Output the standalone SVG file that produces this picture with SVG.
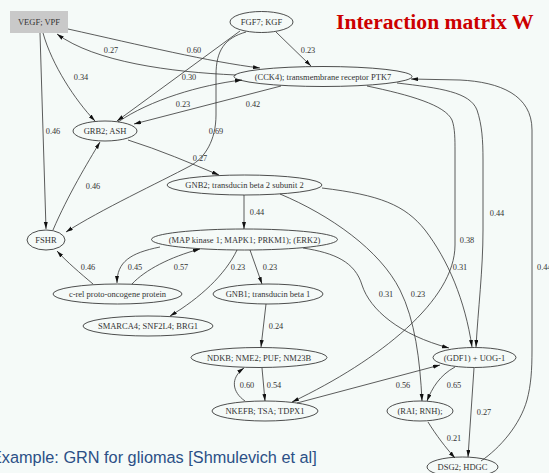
<svg xmlns="http://www.w3.org/2000/svg" width="549" height="473" viewBox="0 0 549 473">
  <style>
    .node ellipse { fill: none; stroke: #222; stroke-width: 0.8; }
    .node rect { fill: #c9c9c9; stroke: none; }
    .node text { font-family: "Liberation Serif", "Times New Roman", serif; font-size: 8.5px; fill: #333; text-anchor: middle; }
    .edges path { fill: none; stroke: #333; stroke-width: 0.8; marker-end: url(#arrow); }
    .lbl text { font-family: "Liberation Serif", "Times New Roman", serif; font-size: 8.3px; fill: #333; text-anchor: middle; }
    .title { font-family: "Liberation Serif", "Times New Roman", serif; font-size: 21.6px; font-weight: bold; fill: #cc0000; }
    .caption { font-family: "Liberation Sans", Arial, sans-serif; font-size: 16.3px; fill: #2b4f86; }
  </style>
  <defs>
    <marker id="arrow" markerUnits="userSpaceOnUse" markerWidth="7" markerHeight="5" refX="7" refY="2" orient="auto">
      <path d="M0,0 L7,2 L0,4 z" fill="#111"/>
    </marker>
  </defs>

  <rect width="549" height="473" fill="#f5faf8"/>

  <text class="title" x="336" y="29">Interaction matrix W</text>

  <!-- connectors -->
  <g id="edges" class="edges">
    <path d="M68,29 C140,45 210,62 260,68"/>
    <path d="M236,75 C170,72 95,62 57,34"/>
    <path d="M43,33 C52,65 75,100 95,121"/>
    <path d="M40,33 L46,229"/>
    <path d="M53,230 C68,195 88,162 100,142"/>
    <path d="M240,31 L117,121"/>
    <path d="M276,32 L311,66"/>
    <path d="M246,32 C225,38 216,50 216,75 L216,115 C216,140 205,158 190,166 C160,182 100,210 66,232"/>
    <path d="M118,122 C150,100 200,85 242,80"/>
    <path d="M281,86 L134,124"/>
    <path d="M128,140 C160,150 190,163 219,175"/>
    <path d="M244,195 L244,229"/>
    <path d="M160,247 C130,253 117,262 117,283"/>
    <path d="M132,284 C145,270 170,257 200,249"/>
    <path d="M93,284 C80,273 67,262 57,251"/>
    <path d="M237,250 C225,275 200,298 170,316"/>
    <path d="M250,250 L262,284"/>
    <path d="M266,304 L261,347"/>
    <path d="M262,368 L265,401"/>
    <path d="M245,401 C232,392 230,378 244,368"/>
    <path d="M297,403 L440,365"/>
    <path d="M455,367 C440,375 432,388 427,401"/>
    <path d="M474,368 L468,457"/>
    <path d="M428,422 C436,435 446,448 455,458"/>
    <path d="M481,461 C500,448 520,425 527,400 C531,385 532,370 532,350 L532,130 C532,95 500,82 460,80 L411,79"/>
    <path d="M397,83 C440,88 470,92 477,110 C482,125 483,140 483,160 L483,230 C483,270 478,310 476,347"/>
    <path d="M367,86 C410,95 445,105 452,120 C455,128 455,140 455,150 L455,245 C455,300 380,360 292,402"/>
    <path d="M322,188 C380,195 405,205 425,230 C448,260 465,300 472,347"/>
    <path d="M303,248 C335,253 355,262 362,285 C370,310 400,335 449,348"/>
    <path d="M280,194 C330,215 380,250 400,290 C415,320 420,360 422,401"/>
  </g>

  <!-- edge weights -->
  <g id="weights" class="lbl" fill="#333">
    <text x="194" y="53">0.60</text>
    <text x="111" y="53">0.27</text>
    <text x="189" y="80">0.30</text>
    <text x="81" y="80">0.34</text>
    <text x="308" y="53">0.23</text>
    <text x="183" y="107">0.23</text>
    <text x="253" y="107">0.42</text>
    <text x="53" y="134">0.46</text>
    <text x="216" y="134">0.69</text>
    <text x="93" y="189">0.46</text>
    <text x="200" y="161">0.27</text>
    <text x="257" y="215">0.44</text>
    <text x="497" y="216">0.44</text>
    <text x="467" y="243">0.38</text>
    <text x="460" y="270">0.31</text>
    <text x="537" y="270" style="text-anchor:start">0.44</text>
    <text x="88" y="270">0.46</text>
    <text x="135" y="270">0.45</text>
    <text x="181" y="270">0.57</text>
    <text x="238" y="270">0.23</text>
    <text x="270" y="270">0.23</text>
    <text x="386" y="297">0.31</text>
    <text x="418" y="297">0.23</text>
    <text x="276" y="329">0.24</text>
    <text x="247" y="388">0.60</text>
    <text x="274" y="388">0.54</text>
    <text x="403" y="388">0.56</text>
    <text x="454" y="388">0.65</text>
    <text x="484" y="415">0.27</text>
    <text x="454" y="441">0.21</text>
  </g>

  <!-- nodes -->
  <g id="vegf" class="node"><rect x="10" y="11" width="58" height="22"/><text x="39" y="25">VEGF; VPF</text></g>
  <g id="fgf7" class="node"><ellipse cx="261.5" cy="22" rx="31.5" ry="10.5"/><text x="261.5" y="25">FGF7; KGF</text></g>
  <g id="cck4" class="node"><ellipse cx="323" cy="76.5" rx="89" ry="10"/><text x="323" y="79.5">(CCK4); transmembrane receptor PTK7</text></g>
  <g id="grb2" class="node"><ellipse cx="105" cy="131" rx="32" ry="10"/><text x="105" y="134">GRB2; ASH</text></g>
  <g id="gnb2" class="node"><ellipse cx="244.5" cy="185" rx="77.5" ry="10"/><text x="244.5" y="188">GNB2; transducin beta 2 subunit 2</text></g>
  <g id="fshr" class="node"><ellipse cx="46" cy="240" rx="19" ry="10"/><text x="46" y="243">FSHR</text></g>
  <g id="mapk1" class="node"><ellipse cx="244.5" cy="239.5" rx="93" ry="10.5"/><text x="244.5" y="242.5">(MAP kinase 1; MAPK1; PRKM1); (ERK2)</text></g>
  <g id="crel" class="node"><ellipse cx="117.5" cy="294" rx="64.5" ry="10"/><text x="117.5" y="297">c-rel proto-oncogene protein</text></g>
  <g id="gnb1" class="node"><ellipse cx="268" cy="294" rx="55" ry="10"/><text x="268" y="297">GNB1; transducin beta 1</text></g>
  <g id="smarca4" class="node"><ellipse cx="148" cy="326" rx="65" ry="10"/><text x="148" y="329">SMARCA4; SNF2L4; BRG1</text></g>
  <g id="ndkb" class="node"><ellipse cx="259" cy="357.5" rx="68" ry="10"/><text x="259" y="360.5">NDKB; NME2; PUF; NM23B</text></g>
  <g id="nkefb" class="node"><ellipse cx="265" cy="411" rx="53" ry="10"/><text x="265" y="414">NKEFB; TSA; TDPX1</text></g>
  <g id="gdf1" class="node"><ellipse cx="474.5" cy="357.5" rx="41.5" ry="10"/><text x="474.5" y="360.5">(GDF1) + UOG-1</text></g>
  <g id="rai" class="node"><ellipse cx="420" cy="411" rx="33" ry="10"/><text x="420" y="414">(RAI; RNH);</text></g>
  <g id="dsg2" class="node"><ellipse cx="462.5" cy="467" rx="35.5" ry="10"/><text x="462.5" y="470">DSG2; HDGC</text></g>

  <text class="caption" x="-9" y="463">Example: GRN for gliomas [Shmulevich et al]</text>
</svg>
